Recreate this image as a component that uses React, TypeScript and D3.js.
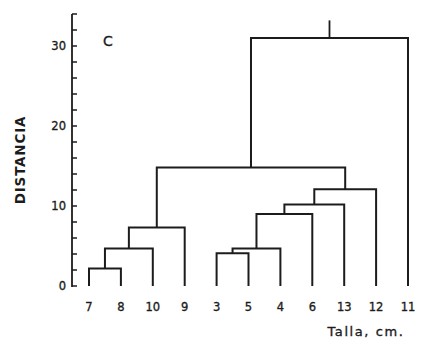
import React, { useEffect, useRef } from 'react';
import * as d3 from 'd3';

// leaf order along the x axis (Talla, cm.)
const leaves = ['7', '8', '10', '9', '3', '5', '4', '6', '13', '12', '11'];

// merges: [left, right, distance]; clusters are named c1, c2, ... in order
const merges: [string, string, number][] = [
  ['7', '8', 2.2],
  ['c1', '10', 4.7],
  ['c2', '9', 7.3],
  ['3', '5', 4.1],
  ['c4', '4', 4.7],
  ['c5', '6', 9.0],
  ['c6', '13', 10.2],
  ['c7', '12', 12.1],
  ['c3', 'c8', 14.8],
  ['c9', '11', 31.0],
];
const rootStem = 33.2;

const yTicks = d3.range(0, 36, 2);
const yLabels = [0, 10, 20, 30];

const width = 421;
const height = 341;
const ink = '#1c1c1c';
const font = '"DejaVu Sans", sans-serif';

const App = () => {
  const svgRef = useRef<SVGSVGElement>(null);

  useEffect(() => {
    if (!svgRef.current) return;
    const svg = d3.select(svgRef.current);
    svg.selectAll('*').remove();

    const x = d3.scalePoint<string>().domain(leaves).range([89, 408]);
    const y = d3.scaleLinear().domain([0, 34]).range([286, 14]);

    // node positions
    const pos: Record<string, { x: number; h: number }> = {};
    leaves.forEach(l => { pos[l] = { x: x(l) as number, h: 0 }; });

    const g = svg.append('g');
    const line = (pts: [number, number][]) => d3.line()(pts) as string;

    merges.forEach(([a, b, h], i) => {
      const pa = pos[a];
      const pb = pos[b];
      g.append('path')
        .attr('d', line([[pa.x, y(pa.h)], [pa.x, y(h)], [pb.x, y(h)], [pb.x, y(pb.h)]]))
        .attr('fill', 'none')
        .attr('stroke', ink)
        .attr('stroke-width', 2);
      pos['c' + (i + 1)] = { x: (pa.x + pb.x) / 2, h };
    });

    const root = pos['c' + merges.length];
    g.append('path')
      .attr('d', line([[root.x, y(root.h)], [root.x, y(rootStem)]]))
      .attr('stroke', ink)
      .attr('stroke-width', 1.8);

    // y axis
    const ax = 72;
    svg.append('line')
      .attr('x1', ax).attr('x2', ax)
      .attr('y1', y(0) + 1).attr('y2', y(34))
      .attr('stroke', ink).attr('stroke-width', 1.8);
    svg.selectAll('.tick')
      .data(yTicks)
      .enter().append('line')
      .attr('x1', ax).attr('x2', ax + 5)
      .attr('y1', d => y(d)).attr('y2', d => y(d))
      .attr('stroke', ink).attr('stroke-width', 1.5);

    const textStyle = (sel: d3.Selection<SVGTextElement, any, any, any>, size: number) =>
      sel.style('font-family', font)
        .style('font-size', size + 'px')
        .style('fill', ink)
        .style('stroke', ink)
        .style('stroke-width', 0.35);

    textStyle(svg.selectAll('.ylab')
      .data(yLabels)
      .enter().append('text')
      .attr('x', ax - 6)
      .attr('y', d => y(d))
      .attr('dy', '0.35em')
      .attr('text-anchor', 'end'), 11.5)
      .text(d => d);

    // leaf labels
    textStyle(svg.selectAll('.leaf')
      .data(leaves)
      .enter().append('text')
      .attr('x', d => x(d) as number)
      .attr('y', 311)
      .attr('text-anchor', 'middle'), 11.5)
      .text(d => d);

    textStyle(svg.append('text')
      .attr('x', 366).attr('y', 336)
      .attr('text-anchor', 'middle')
      .style('letter-spacing', '1.6px'), 13)
      .text('Talla, cm.');

    svg.append('text')
      .attr('transform', 'translate(25,160) rotate(-90)')
      .attr('text-anchor', 'middle')
      .style('font-family', font)
      .style('font-size', '13.5px')
      .style('font-weight', 'bold')
      .style('letter-spacing', '0.8px')
      .style('fill', ink)
      .text('DISTANCIA');

    textStyle(svg.append('text')
      .attr('x', 108).attr('y', 46)
      .attr('text-anchor', 'middle'), 14)
      .text('C');
  }, []);

  return (
    <svg
      ref={svgRef}
      width={width}
      height={height}
      style={{ position: 'absolute', left: 0, top: 0, background: '#fff' }}
    />
  );
};

export default App;
